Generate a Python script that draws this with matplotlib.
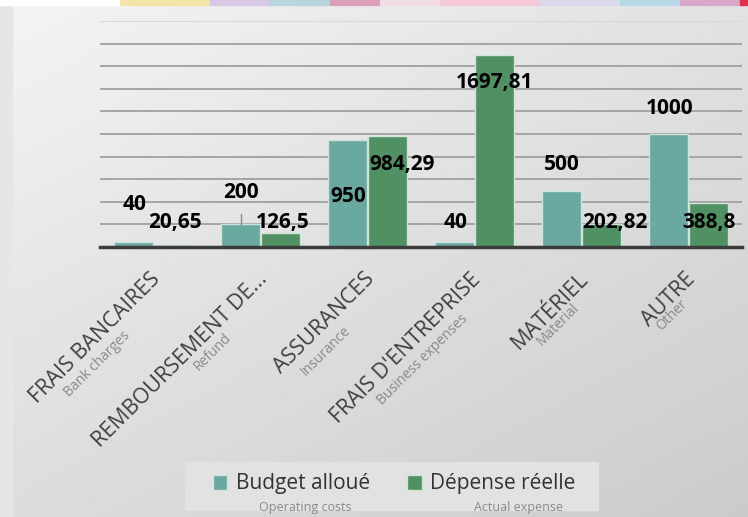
import numpy as np
import matplotlib.pyplot as plt
from matplotlib.patches import Patch, Rectangle

plt.rcParams['font.family'] = ['Open Sans', 'DejaVu Sans']

categories = ["FRAIS BANCAIRES", "REMBOURSEMENT DE...", "ASSURANCES",
              "FRAIS D'ENTREPRISE", "MATÉRIEL", "AUTRE"]
subtitles = ["Bank charges", "Refund", "Insurance", "Business expenses", "Material", "Other"]
budget = [40, 200, 950, 40, 500, 1000]
depense = [20.65, 126.5, 984.29, 1697.81, 202.82, 388.8]
series_names = ["Budget alloué", "Dépense réelle"]
series_subs = ["Operating costs", "Actual expense"]

# label placement (data units), as laid out in the original slide
budget_lab_y = [372, 478, 451, 221, 726, 1230]
depense_lab_y = [221, 221, 726, 1460, 221, 221]
depense_lab_dx = [0.20, 0.21, 0.32, 0.19, 0.31, 0.19]
# sub-label centres relative to tick, in pixels (dx, dy below axis)
sub_off = [(-56, 117), (-48, 105), (-42, 104), (-52, 113), (-23, 78), (-17, 68)]

teal = '#6aa9a2'
green = '#4f9163'

W, H = 748, 517
fig = plt.figure(figsize=(W / 100, H / 100), dpi=100)

# background gradient
bg = fig.add_axes([0, 0, 1, 1], zorder=-10)
yy, xx = np.mgrid[0:1:200j, 0:1:300j]
grad = 0.955 - 0.07 * xx - 0.09 * yy
bg.imshow(grad, cmap='gray', vmin=0, vmax=1, extent=[0, W, H, 0], aspect='auto')
bg.add_patch(Rectangle((0, 0), 12, H, color='#e3e8e5'))
bg.add_patch(Rectangle((0, 0), W, 5, color='#ffffff'))
deco = [(120, 90, '#f3e6a8'), (210, 60, '#d8c8e8'), (270, 60, '#b9d5dc'),
        (330, 50, '#d9a0b8'), (380, 60, '#f2dce6'), (440, 100, '#f6c9d9'),
        (540, 80, '#dcd8ec'), (620, 60, '#b7d8e6'), (680, 60, '#d8a8c8'), (740, 8, '#e0304a')]
for x0, w, c in deco:
    bg.add_patch(Rectangle((x0, 0), w, 5, color=c))
bg.add_patch(Rectangle((185, 462), 413, 48, color='#e2e2e2'))
bg.set_xlim(0, W)
bg.set_ylim(H, 0)
bg.axis('off')

ax = fig.add_axes([100 / W, 270 / H, 642 / W, 226 / H])
ax.set_facecolor('none')
x = np.arange(len(categories))
bw = 0.36
ax.bar(x - 0.185, budget, bw, color=teal, edgecolor='#cfe3df', linewidth=1, zorder=3)
ax.bar(x + 0.185, depense, bw, color=green, edgecolor='#cfe3d6', linewidth=1, zorder=3)

ax.set_xlim(-0.5, 5.5)
ax.set_ylim(0, 2000)
ax.set_yticks(range(200, 2001, 200))
ax.yaxis.grid(True, color='#a0a0a0', linewidth=1.3, zorder=1)
ax.yaxis.get_gridlines()[-1].set_color('#d6d6d6')
ax.tick_params(axis='both', length=0, labelleft=False, labelbottom=False)
for s in ['top', 'right', 'left']:
    ax.spines[s].set_visible(False)
ax.spines['bottom'].set_color('#3c3c3c')
ax.spines['bottom'].set_linewidth(2.5)
ax.spines['bottom'].set_zorder(4)

def fmt(v):
    return f"{v:g}".replace('.', ',')

for i in range(len(categories)):
    ax.text(i - 0.18, budget_lab_y[i], fmt(budget[i]), ha='center', va='center',
            fontsize=15, fontweight='bold', color='black', zorder=5)
    ax.text(i + depense_lab_dx[i], depense_lab_y[i], fmt(depense[i]), ha='center', va='center',
            fontsize=15, fontweight='bold', color='black', zorder=5)
    ax.annotate(categories[i], xy=(i, 0), xytext=(2.5, -21), textcoords='offset points',
                ha='right', va='center', rotation=45, rotation_mode='anchor',
                fontsize=15.5, color='#404040', annotation_clip=False)
    dx, dy = sub_off[i]
    ax.annotate(subtitles[i], xy=(i, 0), xytext=(dx * 0.72, -dy * 0.72), textcoords='offset points',
                ha='center', va='center', rotation=45, rotation_mode='anchor',
                fontsize=10, color='#8a8a8a', annotation_clip=False)

# small leader line under the "200" label
ax.plot([1 - 0.18, 1 - 0.18], [205, 290], color='#888888', linewidth=1, zorder=5)

handles = [Patch(facecolor=teal, edgecolor='#cfe3df'), Patch(facecolor=green, edgecolor='#cfe3d6')]
fig.legend(handles, series_names, loc='center', bbox_to_anchor=(394 / W, 1 - 484 / H),
           ncol=2, frameon=False, fontsize=15, handlelength=0.7, handleheight=0.7,
           handletextpad=0.4, columnspacing=1.8, labelcolor='#333333')
fig.text(305 / W, 1 - 508 / H, series_subs[0], ha='center', va='center', fontsize=9, color='#8a8a8a')
fig.text(518 / W, 1 - 508 / H, series_subs[1], ha='center', va='center', fontsize=9, color='#8a8a8a')

fig.savefig('out.png', dpi=100)
